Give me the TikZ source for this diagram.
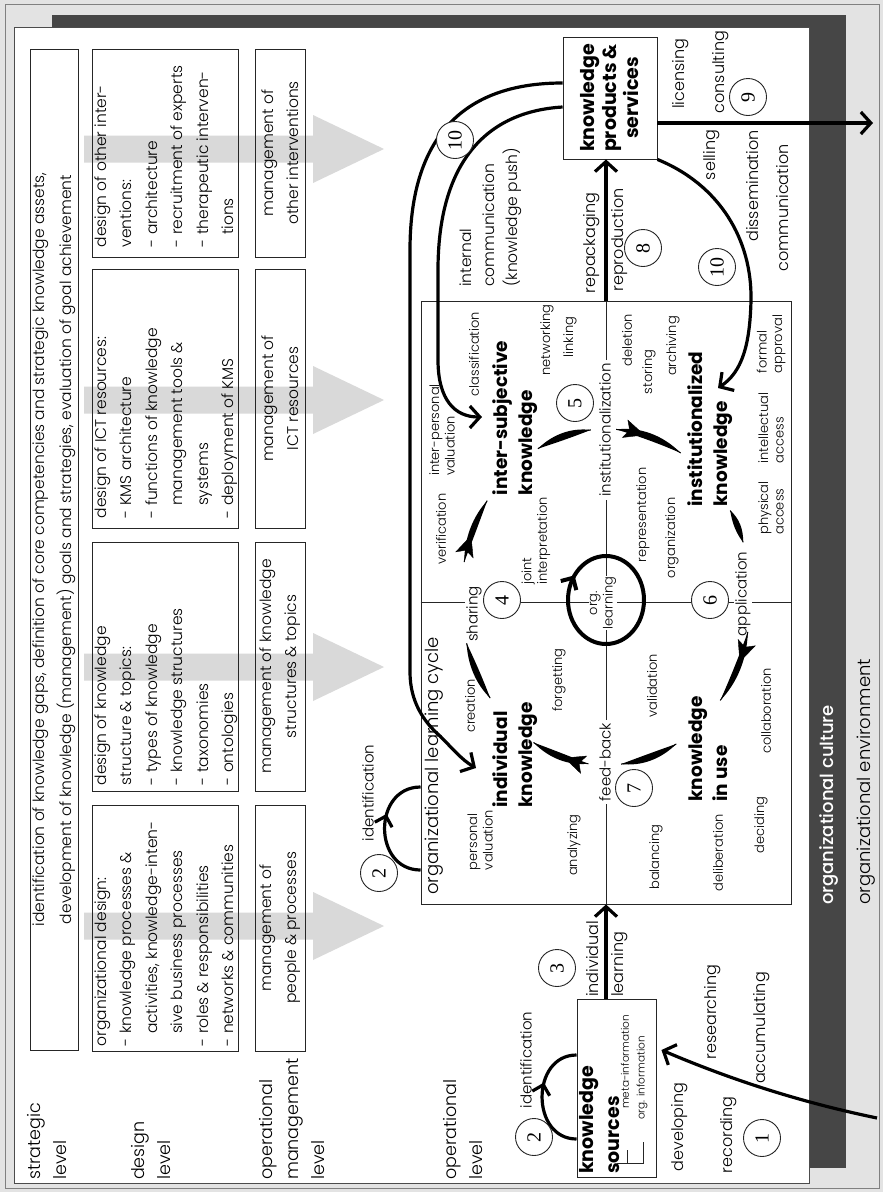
\documentclass[tikz,border=0pt]{standalone}
\usepackage{fontspec}
\IfFontExistsTF{Poppins Light}
  {\setmainfont{Poppins}[UprightFont=* Light,BoldFont=* Bold]}
  {\setmainfont{Poppins}}
\IfFontExistsTF{Poppins Medium}
  {\newfontfamily\regfont{Poppins Medium}}
  {\newfontfamily\regfont{Poppins}}
\newfontfamily\numfont{Liberation Serif}
\usetikzlibrary{arrows.meta,calc,decorations.markings}

\definecolor{pagegray}{HTML}{E3E3E3}
\definecolor{culture}{HTML}{464646}
\definecolor{flowgray}{HTML}{D9D9D9}
\definecolor{rule}{HTML}{262626}
\newcommand\fsz[2]{\fontsize{#1}{#2}\selectfont}

\tikzset{
  txt/.style={rotate=90, inner sep=0pt, align=left, font=\fsz{15}{18}},
  sm/.style={txt, font=\fsz{13}{15.5}},
  md/.style={txt, font=\fsz{15}{17.5}},
  lg/.style={txt, font=\fsz{16}{25}},
  lvl/.style={txt, font=\fsz{17.5}{26}},
  boxtext/.style={txt, font=\fsz{15.5}{25.5}},
  know/.style={txt, font=\bfseries\fsz{18.5}{25}},
  onrule/.style={fill=white, inner xsep=3pt, inner ysep=1pt},
  framebox/.style={draw=rule, line width=0.9pt, rotate=90, inner sep=0pt},
  num/.style={circle, draw=rule, line width=0.9pt, fill=white, minimum size=37pt,
    inner sep=0pt, rotate=90, font=\numfont\fsz{20}{20}},
  flow/.style={line width=3.2pt},
  vee/.style={-{Straight Barb[length=10pt,width=22pt]}},
  cyc/.style={line width=4pt},
  guide/.style={line width=1pt},
  headmark/.style={postaction={decorate}, decoration={markings,
    mark=at position #1 with {\arrow{Stealth[length=21pt,width=19pt,inset=5pt]}}}},
  midvee/.style={postaction={decorate}, decoration={markings,
    mark=at position #1 with {\arrow{Straight Barb[length=9pt,width=18pt]}}}},
}

% tapered stroke along the cycle ellipse (centre (606,-597), radii 145 and 168)
% #1 start angle, #2 end angle, #3 outer factor, #4 inner factor
\newcommand\cycseg[4]{%
  \pgfmathsetmacro\lk{4/3*tan((#2-(#1))/4)}%
  \pgfmathsetmacro\lax{606+145*cos(#1)}%
  \pgfmathsetmacro\lay{-597+168*sin(#1)}%
  \pgfmathsetmacro\lbx{606+145*cos(#2)}%
  \pgfmathsetmacro\lby{-597+168*sin(#2)}%
  \pgfmathsetmacro\lpx{\lax-(\lk)*145*sin(#1)}%
  \pgfmathsetmacro\lpy{\lay+(\lk)*168*cos(#1)}%
  \pgfmathsetmacro\lqx{\lbx+(\lk)*145*sin(#2)}%
  \pgfmathsetmacro\lqy{\lby-(\lk)*168*cos(#2)}%
  \draw[guide] (\lax,\lay) .. controls (\lpx,\lpy) and (\lqx,\lqy) .. (\lbx,\lby);
  \fill[black] (\lax,\lay) .. controls ($(cc)!#3!(\lpx,\lpy)$) and ($(cc)!#3!(\lqx,\lqy)$) .. (\lbx,\lby)
     .. controls ($(cc)!#4!(\lqx,\lqy)$) and ($(cc)!#4!(\lpx,\lpy)$) .. (\lax,\lay) -- cycle;
}

\begin{document}
\begin{tikzpicture}[x=1pt,y=1pt]
\useasboundingbox (0,0) rectangle (883,-1192);

% environment, culture band and the management panel
\fill[pagegray] (0,0) rectangle (883,-1192);
\draw[gray, line width=0.8pt] (5,-4) rectangle (879,-1188);
\node[fill=culture, rotate=90, inner sep=0pt, minimum width=1153pt, minimum height=794pt] (culture) at (449,-591.5) {};
\node[fill=white, draw=gray!60!black, line width=0.8pt, rotate=90, inner sep=0pt, minimum width=1156pt, minimum height=795pt] (panel) at (411.5,-605) {};
\node[txt, font=\regfont\fsz{18}{20}, text=white, anchor=west] (culttxt) at (829,-905) {organizational culture};
\node[txt, font=\fsz{18}{20}, anchor=west] (envtxt) at (866,-905) {organizational environment};

% broad flows from design towards operations
\foreach \yc in {149,400,667,926}
  \fill[flowgray] (84,-\yc+13.5) -- (313,-\yc+13.5) -- (313,-\yc+34) -- (384,-\yc)
    -- (313,-\yc-34) -- (313,-\yc-13.5) -- (84,-\yc-13.5) -- cycle;

% level labels
\node[lvl, anchor=north west] (lstrat) at (27,-1180) {strategic\\level};
\node[lvl, anchor=north west] (ldes) at (131,-1180) {design\\level};
\node[lvl, anchor=north west] (lmgmt) at (259,-1180) {operational\\management\\level};
\node[lvl, anchor=north west] (lop) at (443,-1180) {operational\\level};

% strategic level
\node[framebox, minimum width=1001pt, minimum height=48pt, align=center, font=\fsz{15.5}{27}] (strat) at (54,-549.5)
  {identification of knowledge gaps, definition of core competencies and strategic knowledge assets,\\
   development of knowledge (management) goals and strategies, evaluation of goal achievement};

% design level
\node[framebox, minimum width=246pt, minimum height=146pt] (d1) at (165,-928) {};
\node[framebox, minimum width=249pt, minimum height=146pt] (d2) at (165,-666.5) {};
\node[framebox, minimum width=259pt, minimum height=146pt] (d3) at (165,-398.5) {};
\node[framebox, minimum width=208pt, minimum height=146pt] (d4) at (165,-153) {};
\node[boxtext, anchor=north west] (d1t) at ($(d1.north west)+(3,5)$)
  {organizational design:\\- knowledge processes \&\\\phantom{- }activities, knowledge-inten-\\\phantom{- }sive business processes\\- roles \& responsibilities\\- networks \& communities};
\node[boxtext, anchor=north west] (d2t) at ($(d2.north west)+(3,6)$)
  {design of knowledge\\structure \& topics:\\- types of knowledge\\- knowledge structures\\- taxonomies\\- ontologies};
\node[boxtext, anchor=north west] (d3t) at ($(d3.north west)+(3,10)$)
  {design of ICT resources:\\- KMS architecture\\- functions of knowledge\\\phantom{- }management tools \&\\\phantom{- }systems\\- deployment of KMS};
\node[boxtext, anchor=north west] (d4t) at ($(d4.north west)+(3,10)$)
  {design of other inter-\\ventions:\\- architecture\\- recruitment of experts\\- therapeutic interven-\\\phantom{- }tions};

% operational management level
\tikzset{mbox/.style={framebox, minimum height=50pt, align=center, font=\fsz{15.5}{25}}}
\node[mbox, minimum width=246pt] (m1) at (280,-928) {management of\\people \& processes};
\node[mbox, minimum width=249pt] (m2) at (280,-666.5) {management of knowledge\\structures \& topics};
\node[mbox, minimum width=259pt] (m3) at (280,-398.5) {management of\\ICT resources};
\node[mbox, minimum width=208pt] (m4) at (280,-153) {management of\\other interventions};

% organizational learning cycle
\node[framebox, minimum width=603pt, minimum height=370pt] (cycle) at (606,-602.5) {};
\coordinate (cc) at (606,-597);
\draw[rule, line width=0.9pt] (cycle.north) -- (cycle.south);
\draw[rule, line width=0.9pt] (cycle.east) -- (cycle.west);
\node[txt, font=\fsz{18}{20}, anchor=north west] (olc) at (425,-895) {organizational learning cycle};

\draw[cyc, midvee=0.1] (606,-600) ++(180:38 and 44) arc[start angle=180, end angle=-180, x radius=38, y radius=44];
\node[sm, align=center, fill=white, inner sep=1pt] (orgl) at (603,-603) {org.\\learning};

\node[md, onrule] (sharing) at (474,-614) {sharing};
\node[md, onrule] (instz) at (605,-430) {institutionalization};
\node[md, onrule] (appl) at (743,-594) {application};
\node[md, onrule] (feedb) at (605,-762) {feed-back};

\node[know] (kind) at (515,-755) {individual\\knowledge};
\node[know] (kint) at (515,-418) {inter-subjective\\knowledge};
\node[know] (kins) at (710,-429) {institutionalized\\knowledge};
\node[know] (kuse) at (708,-749) {knowledge\\in use};

\node[sm] (creat) at (470,-706) {creation};
\node[sm] (persv) at (480,-840) {personal\\valuation};
\node[sm] (forg) at (559,-680) {forgetting};
\node[sm] (anal) at (574,-845) {analyzing};
\node[sm] (jint) at (536,-541) {joint\\interpretation};
\node[sm] (verif) at (441,-529) {verification};
\node[sm] (ipv) at (442,-430) {inter-personal\\valuation};
\node[sm] (class) at (474,-354) {classification};
\node[sm] (netw) at (547,-340) {networking};
\node[sm] (link) at (570,-337) {linking};
\node[sm] (repr) at (643,-515) {representation};
\node[sm] (orgz) at (672,-538) {organization};
\node[sm] (delet) at (627,-340) {deletion};
\node[sm] (stor) at (649,-372) {storing};
\node[sm] (arch) at (673,-346) {archiving};
\node[sm] (formal) at (771,-344) {formal\\approval};
\node[sm] (intel) at (771,-428) {intellectual\\access};
\node[sm] (phys) at (771,-508) {physical\\access};
\node[sm] (valid) at (652,-686) {validation};
\node[sm] (collab) at (766,-711) {collaboration};
\node[sm] (balan) at (656,-857) {balancing};
\node[sm] (delib) at (718,-853) {deliberation};
\node[sm] (decid) at (761,-825) {deciding};

% the cycle strokes: node -> label, then label -> next node with the head
\cycseg{217}{196}{1.028}{0.972}
\cycseg{168}{145}{1.028}{0.972}
\cycseg{118}{96}{1.028}{0.972}
\cycseg{86}{59}{1.028}{0.972}
\cycseg{31}{19}{1.028}{0.972}
\cycseg{-12}{-38}{1.028}{0.972}
\cycseg{-61}{-84}{1.028}{0.972}
\cycseg{-97}{-120}{1.028}{0.972}
\path[headmark=0.42] (606,-597) ++(168:145 and 168) arc[start angle=168, end angle=145, x radius=145, y radius=168];
\path[headmark=0.42] (606,-597) ++(86:145 and 168) arc[start angle=86, end angle=59, x radius=145, y radius=168];
\path[headmark=0.42] (606,-597) ++(-12:145 and 168) arc[start angle=-12, end angle=-38, x radius=145, y radius=168];
\path[headmark=0.42] (606,-597) ++(-97:145 and 168) arc[start angle=-97, end angle=-120, x radius=145, y radius=168];

% knowledge products and services
\node[framebox, fill=white, minimum width=122pt, minimum height=94pt, align=center, font=\bfseries\fsz{19}{22}] (kps) at (610,-98) {knowledge\\products \&\\services};

% knowledge sources
\node[framebox, fill=white, minimum width=178pt, minimum height=79pt] (ksrc) at (616.5,-1088) {};
\node[txt, font=\bfseries\fsz{19}{26}, anchor=north west] (ksrct) at (579,-1174) {knowledge\\sources};
\node[txt, font=\fsz{10.5}{12}] (meta) at (625,-1062) {meta-information};
\node[txt, font=\fsz{10.5}{12}] (orgi) at (642,-1078) {org. information};
\draw[rule, line width=0.7pt] (617,-1163) -- (643,-1163) -- (643,-1142);
\draw[rule, line width=0.7pt] (627,-1163) -- (627,-1150);

% flows between the stages
\draw[flow, vee] (cycle.east) -- (cycle.east |- kps.west);
\coordinate (ext) at (873,-123);
\draw[flow, vee] (kps.south |- ext) -- (ext);
\draw[flow, vee] (ksrc.east -| cycle.center) -- (cycle.west);
\coordinate (envsrc) at (877,-1118);
\draw[flow, vee] (envsrc) .. controls (790,-1100) and (720,-1075) .. ($(ksrc.south)+(5,38)$);

% knowledge push into the cycle
\draw[flow, vee] ($(kps.north)+(0,15)$) .. controls (470,-83) and (410,-130) .. (410,-250)
  -- (410,-672) .. controls (410,-702) and (424,-722) .. (440,-736)
  .. controls (452,-748) and (462,-760) .. (476,-768);
\draw[flow, vee] ($(kps.north)+(0,-9)$) .. controls (480,-112) and (438,-170) .. (438,-270)
  -- (438,-360) .. controls (438,-400) and (455,-417) .. (482,-417);
\draw[flow, vee] (kps.south west) .. controls (720,-185) and (752,-240) .. (751,-300)
  .. controls (750,-345) and (742,-372) .. (718,-388);

% identification loops
\draw[flow, midvee=0.62] ($(ksrc.north)+(0,-51)$) .. controls ($(ksrc.north)+(-46,-51)$) and ($(ksrc.north)+(-46,33)$) .. ($(ksrc.north)+(0,33)$);
\draw[flow, midvee=0.62] ($(cycle.north)+(0,-267.5)$) .. controls ($(cycle.north)+(-48,-267.5)$) and ($(cycle.north)+(-48,-184.5)$) .. ($(cycle.north)+(0,-184.5)$);

% flow labels
\node[md, anchor=north west, font=\fsz{15.5}{23}] (intcom) at (460,-287) {internal\\communication\\(knowledge push)};
\node[lg] (repack) at (592,-243) {repackaging};
\node[lg] (reprod) at (620,-240) {reproduction};
\node[lg] (licen) at (681,-74) {licensing};
\node[lg] (consu) at (721,-72) {consulting};
\node[lg] (sell) at (712,-155) {selling};
\node[lg] (dissem) at (753,-186) {dissemination};
\node[lg] (commu) at (783,-208) {communication};
\node[lg, anchor=north west] (indl) at (586,-997) {individual\\learning};
\node[lg] (resea) at (713,-1012) {researching};
\node[lg] (accum) at (762,-1028) {accumulating};
\node[lg] (devel) at (680,-1127) {developing};
\node[lg] (recor) at (729,-1135) {recording};
\node[md] (ident1) at (526,-1060) {identification};
\node[md] (ident2) at (368,-793) {identification};

% step numbers
\node[num] (n1) at (762,-1138) {1};
\node[num] (n2a) at (534,-1137) {2};
\node[num] (n2b) at (379,-873) {2};
\node[num] (n3) at (557,-968) {3};
\node[num] (n4) at (502,-600) {4};
\node[num] (n5) at (575,-403) {5};
\node[num] (n6) at (710,-600) {6};
\node[num] (n7) at (634,-788) {7};
\node[num] (n8) at (643,-248) {8};
\node[num] (n9) at (748,-97) {9};
\node[num] (n10a) at (455,-140) {10};
\node[num] (n10b) at (717,-267) {10};
\end{tikzpicture}
\end{document}
